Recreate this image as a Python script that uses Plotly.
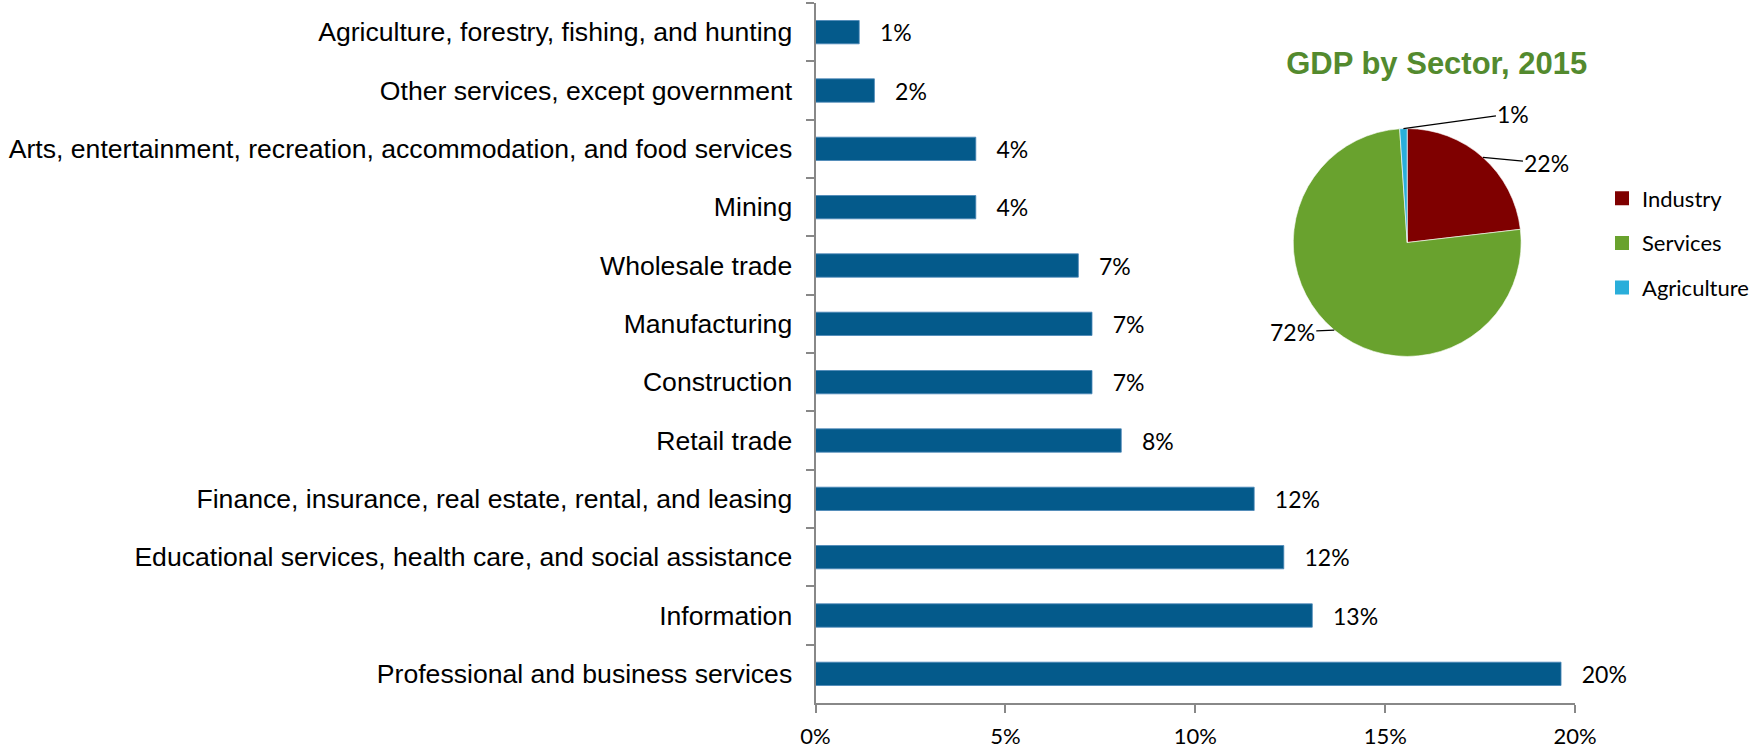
import math
import plotly.graph_objects as go

# GDP share by industry (percent), listed top to bottom
sectors = [
    "Agriculture, forestry, fishing, and hunting",
    "Other services, except government",
    "Arts, entertainment, recreation, accommodation, and food services",
    "Mining",
    "Wholesale trade",
    "Manufacturing",
    "Construction",
    "Retail trade",
    "Finance, insurance, real estate, rental, and leasing",
    "Educational services, health care, and social assistance",
    "Information",
    "Professional and business services",
]
shares = [1.15, 1.55, 4.22, 4.22, 6.92, 7.28, 7.28, 8.05, 11.55, 12.33, 13.08, 19.63]

# Broad sector split for the inset pie
pie_labels = ["Industry", "Services", "Agriculture"]
pie_values = [22, 72, 1]
pie_colors = ["#7F0000", "#69A22E", "#2AAEDA"]

x_ticks = [0, 5, 10, 15, 20]
x_ticktext = [f"{v}%" for v in x_ticks]

W, H = 1754, 751
BAR_COLOR = "#045A8B"
AXIS_GRAY = "#888888"
ARIAL = "Arial, Liberation Sans, sans-serif"
CALIBRI = "Lato, Carlito, Calibri, sans-serif"

# pie placement (pixels) and label offsets for the leader lines
PIE_CX, PIE_CY, PIE_R = 1408, 242.5, 114
label_offsets = {"Industry": (64, 6), "Services": (-42, 2), "Agriculture": (110, -15)}

fig = go.Figure()

fig.add_trace(go.Bar(
    x=shares,
    y=sectors,
    orientation="h",
    marker=dict(color=BAR_COLOR, line=dict(color="#4A86B8", width=0.8)),
    texttemplate="\u00a0\u00a0\u00a0%{x:.0f}%",
    textposition="outside",
    textfont=dict(family=CALIBRI, size=23, color="black"),
    cliponaxis=False,
    constraintext="none",
    showlegend=False,
    hoverinfo="x+y",
))

fig.add_trace(go.Pie(
    labels=pie_labels,
    values=pie_values,
    marker=dict(colors=pie_colors, line=dict(color="white", width=0.6)),
    sort=False,
    direction="clockwise",
    rotation=0,
    textinfo="none",
    domain=dict(
        x=[(PIE_CX - PIE_R) / W, (PIE_CX + PIE_R) / W],
        y=[1 - (PIE_CY + PIE_R) / H, 1 - (PIE_CY - PIE_R) / H],
    ),
    showlegend=False,
))

# legend keys for the pie slices, one group each so the rows can be spaced out
for lab, col in zip(pie_labels, pie_colors):
    fig.add_trace(go.Scatter(
        x=[None], y=[None], mode="markers", name=lab, legendgroup=lab,
        marker=dict(symbol="square", size=14, color=col, line=dict(width=0)),
        hoverinfo="skip",
    ))

# outside labels with leader lines, anchored at each slice's mid-angle
total = sum(pie_values)
cum = 0
annotations = []
for lab, val in zip(pie_labels, pie_values):
    mid = (cum + val / 2) / total * 2 * math.pi
    cum += val
    ex = PIE_CX + PIE_R * math.sin(mid)
    ey = PIE_CY - PIE_R * math.cos(mid)
    dx, dy = label_offsets[lab]
    annotations.append(dict(
        x=ex / W, y=1 - ey / H, xref="paper", yref="paper",
        text=f"{val}%", showarrow=True, arrowhead=0, arrowwidth=1.2,
        arrowcolor="black", ax=dx, ay=dy, standoff=0,
        font=dict(family=CALIBRI, size=23, color="black"),
    ))

fig.update_layout(
    width=W, height=H,
    margin=dict(l=0, r=0, t=0, b=0),
    paper_bgcolor="white",
    plot_bgcolor="white",
    bargap=0.6,
    title=dict(
        text="<b>GDP by Sector, 2015</b>",
        x=1437.5 / W, y=1 - 63 / H, xref="paper", yref="paper",
        xanchor="center", yanchor="middle",
        font=dict(family=ARIAL, size=31, color="#538A2E"),
    ),
    xaxis=dict(
        domain=[816 / W, 1576 / W],
        range=[0, 20],
        tickvals=x_ticks,
        ticktext=x_ticktext,
        showgrid=False,
        zeroline=False,
        showline=True, linecolor=AXIS_GRAY, linewidth=2,
        ticks="outside", ticklen=8, tickwidth=2, tickcolor=AXIS_GRAY,
        tickfont=dict(family=CALIBRI, size=22, color="black"),
        ticklabelstandoff=5,
        automargin=False,
        fixedrange=True,
    ),
    yaxis=dict(
        domain=[1 - 703 / H, 1 - 3 / H],
        autorange="reversed",
        showgrid=False,
        showline=True, linecolor=AXIS_GRAY, linewidth=2,
        ticks="outside", ticklen=8, tickwidth=2, tickcolor=AXIS_GRAY,
        tickson="boundaries",
        tickfont=dict(family=ARIAL, size=26.6, color="black"),
        ticklabelstandoff=16,
        automargin=False,
        fixedrange=True,
    ),
    legend=dict(
        x=1603 / W, y=1 - 243 / H, xanchor="left", yanchor="middle",
        font=dict(family=CALIBRI, size=22, color="black"),
        bgcolor="rgba(0,0,0,0)",
        tracegroupgap=13,
        itemsizing="trace",
    ),
    annotations=annotations,
)

fig.write_html("out.html")
